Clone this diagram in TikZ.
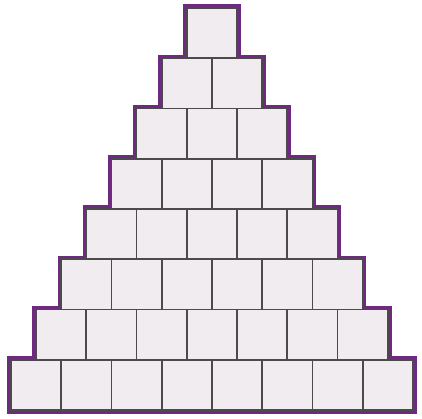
\documentclass[tikz,border=0pt]{standalone}
\usepackage{tikz}

\definecolor{brickfill}{HTML}{F0ECF0}
\definecolor{brickedge}{HTML}{4B4B4B}
\definecolor{rim}{HTML}{6E2A7E}

\tikzset{
	brick/.style={fill=brickfill, draw=brickedge, line width=1.0pt},
	outline/.style={draw=rim, line width=4.2pt, line join=miter}
}

\begin{document}
\begin{tikzpicture}
		\useasboundingbox (-0.219, -0.16) rectangle (8.18, 8.16);

		% purple rim round the whole stack
		\draw[outline] (0,0) -- (8,0) -- (8,1) -- (7.5,1) -- (7.5,2) -- (7,2) -- (7,3)
			-- (6.5,3) -- (6.5,4) -- (6,4) -- (6,5) -- (5.5,5) -- (5.5,6) -- (5,6)
			-- (5,7) -- (4.5,7) -- (4.5,8) -- (3.5,8) -- (3.5,7) -- (3,7) -- (3,6)
			-- (2.5,6) -- (2.5,5) -- (2,5) -- (2,4) -- (1.5,4) -- (1.5,3) -- (1,3)
			-- (1,2) -- (0.5,2) -- (0.5,1) -- (0,1) -- cycle;

		% the bricks, row by row
		\foreach \r in {0,...,7} {
			\pgfmathtruncatemacro\last{7-\r}
			\foreach \c in {0,...,\last} {
				\filldraw[brick] ({0.5*\r+\c}, \r) rectangle +(1,1);
			}
		}
	\end{tikzpicture}
\end{document}
